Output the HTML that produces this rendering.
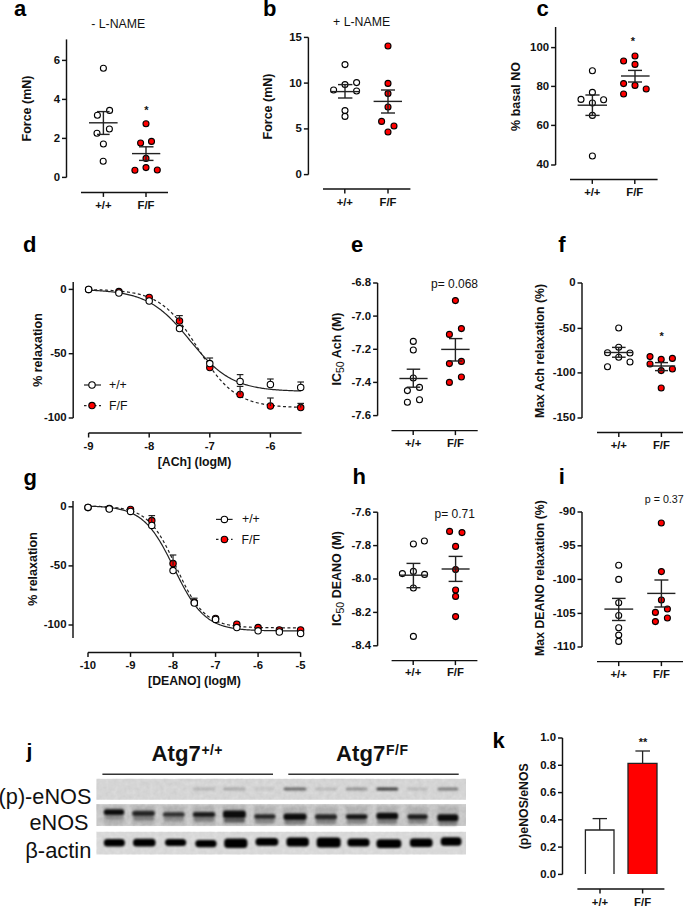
<!DOCTYPE html>
<html><head><meta charset="utf-8"><title>figure</title>
<style>html,body{margin:0;padding:0;background:#fff;}svg{display:block}text{font-family:"Liberation Sans", sans-serif;}</style>
</head><body>
<svg width="685" height="907" viewBox="0 0 685 907">
<rect width="685" height="907" fill="#fff"/>
<text x="14.00" y="16.30" font-size="22" font-weight="bold" text-anchor="start" fill="#000" >a</text>
<text x="118.20" y="28.20" font-size="12.3" font-weight="normal" text-anchor="middle" fill="#111" >- L-NAME</text>
<line x1="66.50" y1="39.40" x2="66.50" y2="177.40" stroke="#111" stroke-width="1.45" />
<line x1="62.00" y1="177.40" x2="66.50" y2="177.40" stroke="#111" stroke-width="1.45" />
<text x="60.00" y="180.82" font-size="11.4" font-weight="bold" text-anchor="end" fill="#111" >0</text>
<line x1="62.00" y1="138.40" x2="66.50" y2="138.40" stroke="#111" stroke-width="1.45" />
<text x="60.00" y="141.82" font-size="11.4" font-weight="bold" text-anchor="end" fill="#111" >2</text>
<line x1="62.00" y1="99.40" x2="66.50" y2="99.40" stroke="#111" stroke-width="1.45" />
<text x="60.00" y="102.82" font-size="11.4" font-weight="bold" text-anchor="end" fill="#111" >4</text>
<line x1="62.00" y1="60.40" x2="66.50" y2="60.40" stroke="#111" stroke-width="1.45" />
<text x="60.00" y="63.82" font-size="11.4" font-weight="bold" text-anchor="end" fill="#111" >6</text>
<text x="28.00" y="108.50" font-size="12.5" font-weight="bold" text-anchor="middle" fill="#111" transform="rotate(-90 28.00 108.50) translate(0 3.38)">Force (mN)</text>
<line x1="81.00" y1="192.40" x2="168.00" y2="192.40" stroke="#111" stroke-width="1.45" />
<line x1="103.40" y1="192.40" x2="103.40" y2="196.90" stroke="#111" stroke-width="1.45" />
<text x="103.40" y="208.70" font-size="11.3" font-weight="bold" text-anchor="middle" fill="#111" >+/+</text>
<line x1="146.00" y1="192.40" x2="146.00" y2="196.90" stroke="#111" stroke-width="1.45" />
<text x="146.00" y="208.70" font-size="11.3" font-weight="bold" text-anchor="middle" fill="#111" >F/F</text>
<circle cx="103.40" cy="68.20" r="3.0" fill="#fff" stroke="#000" stroke-width="1.1"/>
<circle cx="109.60" cy="110.40" r="3.0" fill="#fff" stroke="#000" stroke-width="1.1"/>
<circle cx="97.40" cy="115.20" r="3.0" fill="#fff" stroke="#000" stroke-width="1.1"/>
<circle cx="109.40" cy="129.00" r="3.0" fill="#fff" stroke="#000" stroke-width="1.1"/>
<circle cx="97.00" cy="133.20" r="3.0" fill="#fff" stroke="#000" stroke-width="1.1"/>
<circle cx="103.40" cy="144.00" r="3.0" fill="#fff" stroke="#000" stroke-width="1.1"/>
<circle cx="103.20" cy="161.20" r="3.0" fill="#fff" stroke="#000" stroke-width="1.1"/>
<circle cx="146.00" cy="123.80" r="3.0" fill="#ff0000" stroke="#000" stroke-width="1.1"/>
<circle cx="140.60" cy="143.00" r="3.0" fill="#ff0000" stroke="#000" stroke-width="1.1"/>
<circle cx="151.50" cy="141.40" r="3.0" fill="#ff0000" stroke="#000" stroke-width="1.1"/>
<circle cx="146.00" cy="158.40" r="3.0" fill="#ff0000" stroke="#000" stroke-width="1.1"/>
<circle cx="134.90" cy="170.30" r="3.0" fill="#ff0000" stroke="#000" stroke-width="1.1"/>
<circle cx="146.00" cy="167.60" r="3.0" fill="#ff0000" stroke="#000" stroke-width="1.1"/>
<circle cx="157.30" cy="170.00" r="3.0" fill="#ff0000" stroke="#000" stroke-width="1.1"/>
<line x1="89.00" y1="122.80" x2="117.60" y2="122.80" stroke="#222" stroke-width="1.4" />
<line x1="103.40" y1="111.60" x2="103.40" y2="134.40" stroke="#222" stroke-width="1.4" />
<line x1="97.00" y1="111.60" x2="109.60" y2="111.60" stroke="#222" stroke-width="1.4" />
<line x1="97.00" y1="134.40" x2="109.60" y2="134.40" stroke="#222" stroke-width="1.4" />
<line x1="132.00" y1="153.60" x2="160.30" y2="153.60" stroke="#222" stroke-width="1.4" />
<line x1="146.00" y1="146.80" x2="146.00" y2="160.40" stroke="#222" stroke-width="1.4" />
<line x1="139.00" y1="146.80" x2="153.50" y2="146.80" stroke="#222" stroke-width="1.4" />
<line x1="139.00" y1="160.40" x2="153.50" y2="160.40" stroke="#222" stroke-width="1.4" />
<text x="146.40" y="113.90" font-size="11" font-weight="bold" text-anchor="middle" fill="#111" >*</text>
<text x="263.00" y="16.00" font-size="22" font-weight="bold" text-anchor="start" fill="#000" >b</text>
<text x="361.60" y="26.20" font-size="12.3" font-weight="normal" text-anchor="middle" fill="#111" >+ L-NAME</text>
<line x1="308.40" y1="37.40" x2="308.40" y2="174.60" stroke="#111" stroke-width="1.45" />
<line x1="303.90" y1="174.60" x2="308.40" y2="174.60" stroke="#111" stroke-width="1.45" />
<text x="301.90" y="178.02" font-size="11.4" font-weight="bold" text-anchor="end" fill="#111" >0</text>
<line x1="303.90" y1="128.90" x2="308.40" y2="128.90" stroke="#111" stroke-width="1.45" />
<text x="301.90" y="132.32" font-size="11.4" font-weight="bold" text-anchor="end" fill="#111" >5</text>
<line x1="303.90" y1="83.10" x2="308.40" y2="83.10" stroke="#111" stroke-width="1.45" />
<text x="301.90" y="86.52" font-size="11.4" font-weight="bold" text-anchor="end" fill="#111" >10</text>
<line x1="303.90" y1="37.40" x2="308.40" y2="37.40" stroke="#111" stroke-width="1.45" />
<text x="301.90" y="40.82" font-size="11.4" font-weight="bold" text-anchor="end" fill="#111" >15</text>
<text x="269.00" y="106.50" font-size="12.5" font-weight="bold" text-anchor="middle" fill="#111" transform="rotate(-90 269.00 106.50) translate(0 3.38)">Force (mN)</text>
<line x1="323.00" y1="189.00" x2="410.40" y2="189.00" stroke="#111" stroke-width="1.45" />
<line x1="344.80" y1="189.00" x2="344.80" y2="193.50" stroke="#111" stroke-width="1.45" />
<text x="344.80" y="205.60" font-size="11.3" font-weight="bold" text-anchor="middle" fill="#111" >+/+</text>
<line x1="388.00" y1="189.00" x2="388.00" y2="193.50" stroke="#111" stroke-width="1.45" />
<text x="388.00" y="205.60" font-size="11.3" font-weight="bold" text-anchor="middle" fill="#111" >F/F</text>
<circle cx="345.00" cy="64.60" r="3.0" fill="#fff" stroke="#000" stroke-width="1.1"/>
<circle cx="345.00" cy="84.60" r="3.0" fill="#fff" stroke="#000" stroke-width="1.1"/>
<circle cx="356.60" cy="82.60" r="3.0" fill="#fff" stroke="#000" stroke-width="1.1"/>
<circle cx="333.60" cy="90.00" r="3.0" fill="#fff" stroke="#000" stroke-width="1.1"/>
<circle cx="356.60" cy="91.00" r="3.0" fill="#fff" stroke="#000" stroke-width="1.1"/>
<circle cx="345.00" cy="110.60" r="3.0" fill="#fff" stroke="#000" stroke-width="1.1"/>
<circle cx="345.00" cy="116.40" r="3.0" fill="#fff" stroke="#000" stroke-width="1.1"/>
<circle cx="388.00" cy="46.00" r="3.0" fill="#ff0000" stroke="#000" stroke-width="1.1"/>
<circle cx="388.00" cy="83.40" r="3.0" fill="#ff0000" stroke="#000" stroke-width="1.1"/>
<circle cx="388.00" cy="93.60" r="3.0" fill="#ff0000" stroke="#000" stroke-width="1.1"/>
<circle cx="388.00" cy="107.00" r="3.0" fill="#ff0000" stroke="#000" stroke-width="1.1"/>
<circle cx="381.60" cy="121.40" r="3.0" fill="#ff0000" stroke="#000" stroke-width="1.1"/>
<circle cx="394.00" cy="126.00" r="3.0" fill="#ff0000" stroke="#000" stroke-width="1.1"/>
<circle cx="388.00" cy="132.00" r="3.0" fill="#ff0000" stroke="#000" stroke-width="1.1"/>
<line x1="330.40" y1="91.60" x2="360.00" y2="91.60" stroke="#222" stroke-width="1.4" />
<line x1="345.00" y1="84.60" x2="345.00" y2="98.00" stroke="#222" stroke-width="1.4" />
<line x1="338.00" y1="84.60" x2="352.40" y2="84.60" stroke="#222" stroke-width="1.4" />
<line x1="338.00" y1="98.00" x2="352.40" y2="98.00" stroke="#222" stroke-width="1.4" />
<line x1="373.60" y1="101.40" x2="402.00" y2="101.40" stroke="#222" stroke-width="1.4" />
<line x1="388.00" y1="90.00" x2="388.00" y2="113.00" stroke="#222" stroke-width="1.4" />
<line x1="381.00" y1="90.00" x2="395.00" y2="90.00" stroke="#222" stroke-width="1.4" />
<line x1="381.00" y1="113.00" x2="395.00" y2="113.00" stroke="#222" stroke-width="1.4" />
<text x="536.60" y="16.00" font-size="22" font-weight="bold" text-anchor="start" fill="#000" >c</text>
<line x1="555.60" y1="27.00" x2="555.60" y2="165.00" stroke="#111" stroke-width="1.45" />
<line x1="551.10" y1="165.00" x2="555.60" y2="165.00" stroke="#111" stroke-width="1.45" />
<text x="549.10" y="168.42" font-size="11.4" font-weight="bold" text-anchor="end" fill="#111" >40</text>
<line x1="551.10" y1="125.40" x2="555.60" y2="125.40" stroke="#111" stroke-width="1.45" />
<text x="549.10" y="128.82" font-size="11.4" font-weight="bold" text-anchor="end" fill="#111" >60</text>
<line x1="551.10" y1="86.40" x2="555.60" y2="86.40" stroke="#111" stroke-width="1.45" />
<text x="549.10" y="89.82" font-size="11.4" font-weight="bold" text-anchor="end" fill="#111" >80</text>
<line x1="551.10" y1="47.60" x2="555.60" y2="47.60" stroke="#111" stroke-width="1.45" />
<text x="549.10" y="51.02" font-size="11.4" font-weight="bold" text-anchor="end" fill="#111" >100</text>
<text x="517.00" y="96.50" font-size="12.5" font-weight="bold" text-anchor="middle" fill="#111" transform="rotate(-90 517.00 96.50) translate(0 3.38)">% basal NO</text>
<line x1="570.00" y1="179.40" x2="657.60" y2="179.40" stroke="#111" stroke-width="1.45" />
<line x1="592.30" y1="179.40" x2="592.30" y2="183.90" stroke="#111" stroke-width="1.45" />
<text x="592.30" y="196.00" font-size="11.3" font-weight="bold" text-anchor="middle" fill="#111" >+/+</text>
<line x1="634.80" y1="179.40" x2="634.80" y2="183.90" stroke="#111" stroke-width="1.45" />
<text x="634.80" y="196.00" font-size="11.3" font-weight="bold" text-anchor="middle" fill="#111" >F/F</text>
<circle cx="592.40" cy="70.80" r="3.0" fill="#fff" stroke="#000" stroke-width="1.1"/>
<circle cx="592.40" cy="92.40" r="3.0" fill="#fff" stroke="#000" stroke-width="1.1"/>
<circle cx="581.00" cy="99.40" r="3.0" fill="#fff" stroke="#000" stroke-width="1.1"/>
<circle cx="603.60" cy="99.80" r="3.0" fill="#fff" stroke="#000" stroke-width="1.1"/>
<circle cx="592.40" cy="103.00" r="3.0" fill="#fff" stroke="#000" stroke-width="1.1"/>
<circle cx="592.40" cy="115.40" r="3.0" fill="#fff" stroke="#000" stroke-width="1.1"/>
<circle cx="592.40" cy="156.00" r="3.0" fill="#fff" stroke="#000" stroke-width="1.1"/>
<circle cx="635.00" cy="56.00" r="3.0" fill="#ff0000" stroke="#000" stroke-width="1.1"/>
<circle cx="623.60" cy="61.00" r="3.0" fill="#ff0000" stroke="#000" stroke-width="1.1"/>
<circle cx="635.00" cy="64.40" r="3.0" fill="#ff0000" stroke="#000" stroke-width="1.1"/>
<circle cx="623.60" cy="83.60" r="3.0" fill="#ff0000" stroke="#000" stroke-width="1.1"/>
<circle cx="635.00" cy="85.40" r="3.0" fill="#ff0000" stroke="#000" stroke-width="1.1"/>
<circle cx="646.20" cy="89.00" r="3.0" fill="#ff0000" stroke="#000" stroke-width="1.1"/>
<circle cx="623.60" cy="94.00" r="3.0" fill="#ff0000" stroke="#000" stroke-width="1.1"/>
<line x1="577.60" y1="105.20" x2="607.00" y2="105.20" stroke="#222" stroke-width="1.4" />
<line x1="592.40" y1="95.00" x2="592.40" y2="115.40" stroke="#222" stroke-width="1.4" />
<line x1="585.40" y1="95.00" x2="599.60" y2="95.00" stroke="#222" stroke-width="1.4" />
<line x1="585.40" y1="115.40" x2="599.60" y2="115.40" stroke="#222" stroke-width="1.4" />
<line x1="621.00" y1="76.00" x2="649.60" y2="76.00" stroke="#222" stroke-width="1.4" />
<line x1="635.00" y1="70.40" x2="635.00" y2="82.00" stroke="#222" stroke-width="1.4" />
<line x1="628.00" y1="70.40" x2="642.00" y2="70.40" stroke="#222" stroke-width="1.4" />
<line x1="628.00" y1="82.00" x2="642.00" y2="82.00" stroke="#222" stroke-width="1.4" />
<text x="632.80" y="45.30" font-size="11" font-weight="bold" text-anchor="middle" fill="#111" >*</text>
<text x="23.00" y="251.60" font-size="22" font-weight="bold" text-anchor="start" fill="#000" >d</text>
<line x1="73.20" y1="282.00" x2="73.20" y2="418.00" stroke="#111" stroke-width="1.45" />
<line x1="68.70" y1="289.40" x2="73.20" y2="289.40" stroke="#111" stroke-width="1.45" />
<text x="66.70" y="292.82" font-size="11.4" font-weight="bold" text-anchor="end" fill="#111" >0</text>
<line x1="68.70" y1="353.70" x2="73.20" y2="353.70" stroke="#111" stroke-width="1.45" />
<text x="66.70" y="357.12" font-size="11.4" font-weight="bold" text-anchor="end" fill="#111" >-50</text>
<line x1="68.70" y1="418.00" x2="73.20" y2="418.00" stroke="#111" stroke-width="1.45" />
<text x="66.70" y="421.42" font-size="11.4" font-weight="bold" text-anchor="end" fill="#111" >-100</text>
<text x="38.60" y="350.00" font-size="12.5" font-weight="bold" text-anchor="middle" fill="#111" transform="rotate(-90 38.60 350.00) translate(0 3.38)">% relaxation</text>
<line x1="88.60" y1="433.00" x2="301.60" y2="433.00" stroke="#111" stroke-width="1.45" />
<line x1="88.60" y1="433.00" x2="88.60" y2="437.50" stroke="#111" stroke-width="1.45" />
<text x="88.60" y="450.00" font-size="11.3" font-weight="bold" text-anchor="middle" fill="#111" >-9</text>
<line x1="149.20" y1="433.00" x2="149.20" y2="437.50" stroke="#111" stroke-width="1.45" />
<text x="149.20" y="450.00" font-size="11.3" font-weight="bold" text-anchor="middle" fill="#111" >-8</text>
<line x1="209.80" y1="433.00" x2="209.80" y2="437.50" stroke="#111" stroke-width="1.45" />
<text x="209.80" y="450.00" font-size="11.3" font-weight="bold" text-anchor="middle" fill="#111" >-7</text>
<line x1="270.40" y1="433.00" x2="270.40" y2="437.50" stroke="#111" stroke-width="1.45" />
<text x="270.40" y="450.00" font-size="11.3" font-weight="bold" text-anchor="middle" fill="#111" >-6</text>
<text x="194.60" y="466.30" font-size="12.3" font-weight="bold" text-anchor="middle" fill="#111" >[ACh] (logM)</text>
<polyline points="88.60,290.23 89.67,290.27 90.73,290.32 91.80,290.36 92.86,290.41 93.93,290.47 94.99,290.52 96.06,290.58 97.13,290.64 98.19,290.70 99.26,290.77 100.32,290.84 101.39,290.91 102.46,290.99 103.52,291.07 104.59,291.15 105.65,291.24 106.72,291.34 107.78,291.44 108.85,291.54 109.92,291.65 110.98,291.76 112.05,291.88 113.11,292.01 114.18,292.14 115.25,292.28 116.31,292.42 117.38,292.57 118.44,292.73 119.51,292.90 120.57,293.07 121.64,293.25 122.71,293.45 123.77,293.65 124.84,293.86 125.90,294.08 126.97,294.31 128.04,294.55 129.10,294.80 130.17,295.07 131.23,295.34 132.30,295.63 133.36,295.93 134.43,296.25 135.50,296.58 136.56,296.92 137.63,297.28 138.69,297.66 139.76,298.05 140.83,298.46 141.89,298.89 142.96,299.33 144.02,299.79 145.09,300.27 146.15,300.77 147.22,301.29 148.29,301.83 149.35,302.40 150.42,302.98 151.48,303.59 152.55,304.21 153.62,304.86 154.68,305.54 155.75,306.24 156.81,306.96 157.88,307.71 158.94,308.48 160.01,309.27 161.08,310.09 162.14,310.94 163.21,311.81 164.27,312.71 165.34,313.63 166.41,314.57 167.47,315.54 168.54,316.54 169.60,317.55 170.67,318.59 171.73,319.66 172.80,320.74 173.87,321.85 174.93,322.98 176.00,324.13 177.06,325.29 178.13,326.48 179.20,327.68 180.26,328.90 181.33,330.12 182.39,331.37 183.46,332.62 184.52,333.88 185.59,335.16 186.66,336.43 187.72,337.72 188.79,339.00 189.85,340.29 190.92,341.58 191.99,342.87 193.05,344.15 194.12,345.43 195.18,346.71 196.25,347.97 197.31,349.23 198.38,350.47 199.45,351.71 200.51,352.93 201.58,354.13 202.64,355.32 203.71,356.49 204.78,357.64 205.84,358.77 206.91,359.89 207.97,360.98 209.04,362.05 210.10,363.09 211.17,364.12 212.24,365.12 213.30,366.09 214.37,367.05 215.43,367.97 216.50,368.87 217.57,369.75 218.63,370.60 219.70,371.43 220.76,372.23 221.83,373.01 222.89,373.76 223.96,374.49 225.03,375.19 226.09,375.87 227.16,376.53 228.22,377.16 229.29,377.77 230.36,378.36 231.42,378.93 232.49,379.48 233.55,380.00 234.62,380.51 235.68,380.99 236.75,381.46 237.82,381.91 238.88,382.34 239.95,382.75 241.01,383.15 242.08,383.53 243.15,383.89 244.21,384.24 245.28,384.57 246.34,384.89 247.41,385.20 248.47,385.49 249.54,385.77 250.61,386.03 251.67,386.29 252.74,386.53 253.80,386.77 254.87,386.99 255.94,387.20 257.00,387.41 258.07,387.60 259.13,387.78 260.20,387.96 261.26,388.13 262.33,388.29 263.40,388.44 264.46,388.59 265.53,388.73 266.59,388.86 267.66,388.99 268.73,389.11 269.79,389.22 270.86,389.33 271.92,389.44 272.99,389.54 274.05,389.63 275.12,389.72 276.19,389.81 277.25,389.89 278.32,389.97 279.38,390.04 280.45,390.11 281.52,390.18 282.58,390.25 283.65,390.31 284.71,390.37 285.78,390.42 286.84,390.47 287.91,390.52 288.98,390.57 290.04,390.62 291.11,390.66 292.17,390.70 293.24,390.74 294.31,390.78 295.37,390.81 296.44,390.85 297.50,390.88 298.57,390.91 299.63,390.94 300.70,390.96" fill="none" stroke="#222" stroke-width="1.2"/>
<polyline points="88.60,289.60 89.67,289.62 90.73,289.65 91.80,289.67 92.86,289.69 93.93,289.72 94.99,289.75 96.06,289.78 97.13,289.81 98.19,289.84 99.26,289.88 100.32,289.91 101.39,289.95 102.46,289.99 103.52,290.04 104.59,290.08 105.65,290.13 106.72,290.18 107.78,290.24 108.85,290.29 109.92,290.35 110.98,290.42 112.05,290.49 113.11,290.56 114.18,290.63 115.25,290.71 116.31,290.80 117.38,290.89 118.44,290.98 119.51,291.08 120.57,291.18 121.64,291.29 122.71,291.41 123.77,291.53 124.84,291.66 125.90,291.80 126.97,291.95 128.04,292.10 129.10,292.26 130.17,292.43 131.23,292.61 132.30,292.80 133.36,293.00 134.43,293.21 135.50,293.43 136.56,293.67 137.63,293.91 138.69,294.17 139.76,294.45 140.83,294.73 141.89,295.04 142.96,295.36 144.02,295.69 145.09,296.04 146.15,296.41 147.22,296.80 148.29,297.21 149.35,297.64 150.42,298.09 151.48,298.56 152.55,299.06 153.62,299.58 154.68,300.12 155.75,300.69 156.81,301.29 157.88,301.91 158.94,302.57 160.01,303.25 161.08,303.96 162.14,304.70 163.21,305.47 164.27,306.28 165.34,307.12 166.41,307.99 167.47,308.89 168.54,309.84 169.60,310.81 170.67,311.82 171.73,312.87 172.80,313.96 173.87,315.08 174.93,316.23 176.00,317.42 177.06,318.65 178.13,319.92 179.20,321.21 180.26,322.55 181.33,323.91 182.39,325.31 183.46,326.74 184.52,328.20 185.59,329.69 186.66,331.20 187.72,332.74 188.79,334.30 189.85,335.89 190.92,337.49 191.99,339.11 193.05,340.74 194.12,342.39 195.18,344.05 196.25,345.71 197.31,347.38 198.38,349.05 199.45,350.72 200.51,352.38 201.58,354.04 202.64,355.69 203.71,357.33 204.78,358.96 205.84,360.57 206.91,362.16 207.97,363.73 209.04,365.28 210.10,366.80 211.17,368.30 212.24,369.77 213.30,371.21 214.37,372.62 215.43,373.99 216.50,375.34 217.57,376.65 218.63,377.93 219.70,379.17 220.76,380.37 221.83,381.54 222.89,382.68 223.96,383.77 225.03,384.83 226.09,385.86 227.16,386.85 228.22,387.80 229.29,388.72 230.36,389.61 231.42,390.46 232.49,391.27 233.55,392.06 234.62,392.81 235.68,393.54 236.75,394.23 237.82,394.89 238.88,395.52 239.95,396.13 241.01,396.71 242.08,397.26 243.15,397.79 244.21,398.30 245.28,398.78 246.34,399.24 247.41,399.67 248.47,400.09 249.54,400.48 250.61,400.86 251.67,401.22 252.74,401.56 253.80,401.89 254.87,402.20 255.94,402.49 257.00,402.77 258.07,403.03 259.13,403.28 260.20,403.52 261.26,403.75 262.33,403.96 263.40,404.17 264.46,404.36 265.53,404.54 266.59,404.72 267.66,404.88 268.73,405.04 269.79,405.19 270.86,405.33 271.92,405.46 272.99,405.58 274.05,405.70 275.12,405.82 276.19,405.92 277.25,406.02 278.32,406.12 279.38,406.21 280.45,406.30 281.52,406.38 282.58,406.46 283.65,406.53 284.71,406.60 285.78,406.66 286.84,406.72 287.91,406.78 288.98,406.84 290.04,406.89 291.11,406.94 292.17,406.99 293.24,407.03 294.31,407.07 295.37,407.11 296.44,407.15 297.50,407.19 298.57,407.22 299.63,407.25 300.70,407.28" fill="none" stroke="#222" stroke-width="1.2" stroke-dasharray="3,2.5"/>
<circle cx="88.60" cy="289.40" r="3.2" fill="#ff0000" stroke="#000" stroke-width="1.1"/>
<circle cx="118.90" cy="291.60" r="3.2" fill="#ff0000" stroke="#000" stroke-width="1.1"/>
<circle cx="149.20" cy="297.40" r="3.2" fill="#ff0000" stroke="#000" stroke-width="1.1"/>
<circle cx="179.50" cy="321.00" r="3.2" fill="#ff0000" stroke="#000" stroke-width="1.1"/>
<line x1="179.50" y1="321.00" x2="179.50" y2="315.60" stroke="#222" stroke-width="1.2" />
<line x1="176.20" y1="315.60" x2="182.80" y2="315.60" stroke="#222" stroke-width="1.2" />
<circle cx="209.80" cy="367.60" r="3.2" fill="#ff0000" stroke="#000" stroke-width="1.1"/>
<circle cx="240.10" cy="394.40" r="3.2" fill="#ff0000" stroke="#000" stroke-width="1.1"/>
<line x1="240.10" y1="394.40" x2="240.10" y2="386.40" stroke="#222" stroke-width="1.2" />
<line x1="236.80" y1="386.40" x2="243.40" y2="386.40" stroke="#222" stroke-width="1.2" />
<circle cx="270.40" cy="406.00" r="3.2" fill="#ff0000" stroke="#000" stroke-width="1.1"/>
<line x1="270.40" y1="406.00" x2="270.40" y2="398.00" stroke="#222" stroke-width="1.2" />
<line x1="267.10" y1="398.00" x2="273.70" y2="398.00" stroke="#222" stroke-width="1.2" />
<circle cx="300.70" cy="407.60" r="3.2" fill="#ff0000" stroke="#000" stroke-width="1.1"/>
<line x1="300.70" y1="407.60" x2="300.70" y2="403.40" stroke="#222" stroke-width="1.2" />
<line x1="297.40" y1="403.40" x2="304.00" y2="403.40" stroke="#222" stroke-width="1.2" />
<circle cx="88.60" cy="289.40" r="3.2" fill="#fff" stroke="#000" stroke-width="1.1"/>
<circle cx="118.90" cy="293.00" r="3.2" fill="#fff" stroke="#000" stroke-width="1.1"/>
<circle cx="149.20" cy="301.00" r="3.2" fill="#fff" stroke="#000" stroke-width="1.1"/>
<circle cx="179.50" cy="328.60" r="3.2" fill="#fff" stroke="#000" stroke-width="1.1"/>
<line x1="209.80" y1="363.60" x2="209.80" y2="358.00" stroke="#222" stroke-width="1.2" />
<line x1="206.50" y1="358.00" x2="213.10" y2="358.00" stroke="#222" stroke-width="1.2" />
<circle cx="209.80" cy="363.60" r="3.2" fill="#fff" stroke="#000" stroke-width="1.1"/>
<line x1="240.10" y1="381.40" x2="240.10" y2="374.60" stroke="#222" stroke-width="1.2" />
<line x1="236.80" y1="374.60" x2="243.40" y2="374.60" stroke="#222" stroke-width="1.2" />
<circle cx="240.10" cy="381.40" r="3.2" fill="#fff" stroke="#000" stroke-width="1.1"/>
<line x1="270.40" y1="384.50" x2="270.40" y2="379.00" stroke="#222" stroke-width="1.2" />
<line x1="267.10" y1="379.00" x2="273.70" y2="379.00" stroke="#222" stroke-width="1.2" />
<circle cx="270.40" cy="384.50" r="3.2" fill="#fff" stroke="#000" stroke-width="1.1"/>
<line x1="300.70" y1="387.40" x2="300.70" y2="382.00" stroke="#222" stroke-width="1.2" />
<line x1="297.40" y1="382.00" x2="304.00" y2="382.00" stroke="#222" stroke-width="1.2" />
<circle cx="300.70" cy="387.40" r="3.2" fill="#fff" stroke="#000" stroke-width="1.1"/>
<line x1="84.00" y1="385.00" x2="101.00" y2="385.00" stroke="#222" stroke-width="1.2" />
<circle cx="92.00" cy="385.00" r="3.2" fill="#fff" stroke="#000" stroke-width="1.1"/>
<text x="109.00" y="388.60" font-size="12.3" font-weight="normal" text-anchor="start" fill="#111" >+/+</text>
<line x1="84.00" y1="405.60" x2="101.00" y2="405.60" stroke="#222" stroke-width="1.2" stroke-dasharray="2.5,2.5"/>
<circle cx="92.00" cy="405.60" r="3.2" fill="#ff0000" stroke="#000" stroke-width="1.1"/>
<text x="109.00" y="409.60" font-size="12.3" font-weight="normal" text-anchor="start" fill="#111" >F/F</text>
<text x="351.00" y="252.00" font-size="22" font-weight="bold" text-anchor="start" fill="#000" >e</text>
<line x1="377.60" y1="283.00" x2="377.60" y2="415.60" stroke="#111" stroke-width="1.45" />
<line x1="373.10" y1="283.00" x2="377.60" y2="283.00" stroke="#111" stroke-width="1.45" />
<text x="371.10" y="286.42" font-size="11.4" font-weight="bold" text-anchor="end" fill="#111" >-6.8</text>
<line x1="373.10" y1="316.10" x2="377.60" y2="316.10" stroke="#111" stroke-width="1.45" />
<text x="371.10" y="319.52" font-size="11.4" font-weight="bold" text-anchor="end" fill="#111" >-7.0</text>
<line x1="373.10" y1="349.30" x2="377.60" y2="349.30" stroke="#111" stroke-width="1.45" />
<text x="371.10" y="352.72" font-size="11.4" font-weight="bold" text-anchor="end" fill="#111" >-7.2</text>
<line x1="373.10" y1="382.40" x2="377.60" y2="382.40" stroke="#111" stroke-width="1.45" />
<text x="371.10" y="385.82" font-size="11.4" font-weight="bold" text-anchor="end" fill="#111" >-7.4</text>
<line x1="373.10" y1="415.60" x2="377.60" y2="415.60" stroke="#111" stroke-width="1.45" />
<text x="371.10" y="419.02" font-size="11.4" font-weight="bold" text-anchor="end" fill="#111" >-7.6</text>
<text x="338" y="349" font-size="12.5" font-weight="bold" text-anchor="middle" fill="#111" transform="rotate(-90 338 349) translate(0 3.0)">IC<tspan font-size="10.5" font-weight="normal" dy="3">50</tspan><tspan dy="-3"> Ach (M)</tspan></text>
<line x1="391.50" y1="430.60" x2="477.70" y2="430.60" stroke="#111" stroke-width="1.45" />
<line x1="413.20" y1="430.60" x2="413.20" y2="435.10" stroke="#111" stroke-width="1.45" />
<text x="413.20" y="446.60" font-size="11.3" font-weight="bold" text-anchor="middle" fill="#111" >+/+</text>
<line x1="455.40" y1="430.60" x2="455.40" y2="435.10" stroke="#111" stroke-width="1.45" />
<text x="455.40" y="446.60" font-size="11.3" font-weight="bold" text-anchor="middle" fill="#111" >F/F</text>
<text x="431.00" y="288.20" font-size="12" font-weight="normal" text-anchor="start" fill="#111" >p= 0.068</text>
<circle cx="413.30" cy="341.40" r="3.0" fill="#fff" stroke="#000" stroke-width="1.1"/>
<circle cx="413.30" cy="350.00" r="3.0" fill="#fff" stroke="#000" stroke-width="1.1"/>
<circle cx="413.30" cy="378.00" r="3.0" fill="#fff" stroke="#000" stroke-width="1.1"/>
<circle cx="419.50" cy="387.40" r="3.0" fill="#fff" stroke="#000" stroke-width="1.1"/>
<circle cx="407.40" cy="390.60" r="3.0" fill="#fff" stroke="#000" stroke-width="1.1"/>
<circle cx="419.50" cy="399.80" r="3.0" fill="#fff" stroke="#000" stroke-width="1.1"/>
<circle cx="407.40" cy="402.20" r="3.0" fill="#fff" stroke="#000" stroke-width="1.1"/>
<circle cx="455.40" cy="300.60" r="3.0" fill="#ff0000" stroke="#000" stroke-width="1.1"/>
<circle cx="461.40" cy="328.60" r="3.0" fill="#ff0000" stroke="#000" stroke-width="1.1"/>
<circle cx="449.40" cy="334.40" r="3.0" fill="#ff0000" stroke="#000" stroke-width="1.1"/>
<circle cx="461.40" cy="361.40" r="3.0" fill="#ff0000" stroke="#000" stroke-width="1.1"/>
<circle cx="449.40" cy="363.60" r="3.0" fill="#ff0000" stroke="#000" stroke-width="1.1"/>
<circle cx="461.40" cy="377.00" r="3.0" fill="#ff0000" stroke="#000" stroke-width="1.1"/>
<circle cx="449.40" cy="382.40" r="3.0" fill="#ff0000" stroke="#000" stroke-width="1.1"/>
<line x1="399.40" y1="378.50" x2="427.60" y2="378.50" stroke="#222" stroke-width="1.4" />
<line x1="413.30" y1="369.20" x2="413.30" y2="387.20" stroke="#222" stroke-width="1.4" />
<line x1="406.70" y1="369.20" x2="420.20" y2="369.20" stroke="#222" stroke-width="1.4" />
<line x1="406.70" y1="387.20" x2="420.20" y2="387.20" stroke="#222" stroke-width="1.4" />
<line x1="441.20" y1="349.40" x2="469.60" y2="349.40" stroke="#222" stroke-width="1.4" />
<line x1="455.40" y1="338.60" x2="455.40" y2="361.00" stroke="#222" stroke-width="1.4" />
<line x1="449.00" y1="338.60" x2="462.40" y2="338.60" stroke="#222" stroke-width="1.4" />
<line x1="449.00" y1="361.00" x2="462.40" y2="361.00" stroke="#222" stroke-width="1.4" />
<text x="558.20" y="252.40" font-size="22" font-weight="bold" text-anchor="start" fill="#000" >f</text>
<line x1="582.00" y1="283.00" x2="582.00" y2="418.00" stroke="#111" stroke-width="1.45" />
<line x1="577.50" y1="283.00" x2="582.00" y2="283.00" stroke="#111" stroke-width="1.45" />
<text x="575.50" y="286.42" font-size="11.4" font-weight="bold" text-anchor="end" fill="#111" >0</text>
<line x1="577.50" y1="328.40" x2="582.00" y2="328.40" stroke="#111" stroke-width="1.45" />
<text x="575.50" y="331.82" font-size="11.4" font-weight="bold" text-anchor="end" fill="#111" >-50</text>
<line x1="577.50" y1="372.90" x2="582.00" y2="372.90" stroke="#111" stroke-width="1.45" />
<text x="575.50" y="376.32" font-size="11.4" font-weight="bold" text-anchor="end" fill="#111" >-100</text>
<line x1="577.50" y1="418.00" x2="582.00" y2="418.00" stroke="#111" stroke-width="1.45" />
<text x="575.50" y="421.42" font-size="11.4" font-weight="bold" text-anchor="end" fill="#111" >-150</text>
<text x="541.00" y="351.00" font-size="12.3" font-weight="bold" text-anchor="middle" fill="#111" transform="rotate(-90 541.00 351.00) translate(0 3.32)">Max Ach relaxation (%)</text>
<line x1="597.00" y1="432.50" x2="683.00" y2="432.50" stroke="#111" stroke-width="1.45" />
<line x1="618.80" y1="432.50" x2="618.80" y2="437.00" stroke="#111" stroke-width="1.45" />
<text x="618.80" y="448.80" font-size="11.3" font-weight="bold" text-anchor="middle" fill="#111" >+/+</text>
<line x1="661.40" y1="432.50" x2="661.40" y2="437.00" stroke="#111" stroke-width="1.45" />
<text x="661.40" y="448.80" font-size="11.3" font-weight="bold" text-anchor="middle" fill="#111" >F/F</text>
<circle cx="618.70" cy="328.00" r="3.0" fill="#fff" stroke="#000" stroke-width="1.1"/>
<circle cx="618.70" cy="347.20" r="3.0" fill="#fff" stroke="#000" stroke-width="1.1"/>
<circle cx="607.50" cy="352.80" r="3.0" fill="#fff" stroke="#000" stroke-width="1.1"/>
<circle cx="630.00" cy="353.00" r="3.0" fill="#fff" stroke="#000" stroke-width="1.1"/>
<circle cx="618.70" cy="357.20" r="3.0" fill="#fff" stroke="#000" stroke-width="1.1"/>
<circle cx="630.00" cy="362.00" r="3.0" fill="#fff" stroke="#000" stroke-width="1.1"/>
<circle cx="607.50" cy="366.80" r="3.0" fill="#fff" stroke="#000" stroke-width="1.1"/>
<circle cx="650.00" cy="356.60" r="3.0" fill="#ff0000" stroke="#000" stroke-width="1.1"/>
<circle cx="661.20" cy="359.40" r="3.0" fill="#ff0000" stroke="#000" stroke-width="1.1"/>
<circle cx="672.40" cy="358.40" r="3.0" fill="#ff0000" stroke="#000" stroke-width="1.1"/>
<circle cx="650.00" cy="364.00" r="3.0" fill="#ff0000" stroke="#000" stroke-width="1.1"/>
<circle cx="672.40" cy="369.00" r="3.0" fill="#ff0000" stroke="#000" stroke-width="1.1"/>
<circle cx="661.20" cy="370.60" r="3.0" fill="#ff0000" stroke="#000" stroke-width="1.1"/>
<circle cx="661.20" cy="388.00" r="3.0" fill="#ff0000" stroke="#000" stroke-width="1.1"/>
<line x1="604.50" y1="352.50" x2="633.00" y2="352.50" stroke="#222" stroke-width="1.4" />
<line x1="618.70" y1="347.40" x2="618.70" y2="357.20" stroke="#222" stroke-width="1.4" />
<line x1="612.00" y1="347.40" x2="625.60" y2="347.40" stroke="#222" stroke-width="1.4" />
<line x1="612.00" y1="357.20" x2="625.60" y2="357.20" stroke="#222" stroke-width="1.4" />
<line x1="647.40" y1="366.00" x2="675.20" y2="366.00" stroke="#222" stroke-width="1.4" />
<line x1="661.20" y1="362.60" x2="661.20" y2="370.60" stroke="#222" stroke-width="1.4" />
<line x1="655.00" y1="362.60" x2="668.00" y2="362.60" stroke="#222" stroke-width="1.4" />
<line x1="655.00" y1="370.60" x2="668.00" y2="370.60" stroke="#222" stroke-width="1.4" />
<text x="661.60" y="339.70" font-size="11" font-weight="bold" text-anchor="middle" fill="#111" >*</text>
<text x="23.60" y="484.70" font-size="22" font-weight="bold" text-anchor="start" fill="#000" >g</text>
<line x1="73.00" y1="501.00" x2="73.00" y2="638.00" stroke="#111" stroke-width="1.45" />
<line x1="68.50" y1="506.80" x2="73.00" y2="506.80" stroke="#111" stroke-width="1.45" />
<text x="66.50" y="510.22" font-size="11.4" font-weight="bold" text-anchor="end" fill="#111" >0</text>
<line x1="68.50" y1="565.90" x2="73.00" y2="565.90" stroke="#111" stroke-width="1.45" />
<text x="66.50" y="569.32" font-size="11.4" font-weight="bold" text-anchor="end" fill="#111" >-50</text>
<line x1="68.50" y1="625.00" x2="73.00" y2="625.00" stroke="#111" stroke-width="1.45" />
<text x="66.50" y="628.42" font-size="11.4" font-weight="bold" text-anchor="end" fill="#111" >-100</text>
<text x="34.00" y="569.00" font-size="12.5" font-weight="bold" text-anchor="middle" fill="#111" transform="rotate(-90 34.00 569.00) translate(0 3.38)">% relaxation</text>
<line x1="88.00" y1="652.40" x2="300.60" y2="652.40" stroke="#111" stroke-width="1.45" />
<line x1="88.00" y1="652.40" x2="88.00" y2="656.90" stroke="#111" stroke-width="1.45" />
<text x="88.00" y="669.40" font-size="11.3" font-weight="bold" text-anchor="middle" fill="#111" >-10</text>
<line x1="130.52" y1="652.40" x2="130.52" y2="656.90" stroke="#111" stroke-width="1.45" />
<text x="130.52" y="669.40" font-size="11.3" font-weight="bold" text-anchor="middle" fill="#111" >-9</text>
<line x1="173.04" y1="652.40" x2="173.04" y2="656.90" stroke="#111" stroke-width="1.45" />
<text x="173.04" y="669.40" font-size="11.3" font-weight="bold" text-anchor="middle" fill="#111" >-8</text>
<line x1="215.56" y1="652.40" x2="215.56" y2="656.90" stroke="#111" stroke-width="1.45" />
<text x="215.56" y="669.40" font-size="11.3" font-weight="bold" text-anchor="middle" fill="#111" >-7</text>
<line x1="258.08" y1="652.40" x2="258.08" y2="656.90" stroke="#111" stroke-width="1.45" />
<text x="258.08" y="669.40" font-size="11.3" font-weight="bold" text-anchor="middle" fill="#111" >-6</text>
<line x1="300.60" y1="652.40" x2="300.60" y2="656.90" stroke="#111" stroke-width="1.45" />
<text x="300.60" y="669.40" font-size="11.3" font-weight="bold" text-anchor="middle" fill="#111" >-5</text>
<text x="194.50" y="684.80" font-size="12.3" font-weight="bold" text-anchor="middle" fill="#111" >[DEANO] (logM)</text>
<polyline points="88.00,506.15 89.07,506.18 90.14,506.22 91.21,506.26 92.27,506.30 93.34,506.34 94.41,506.39 95.48,506.44 96.55,506.49 97.62,506.55 98.68,506.61 99.75,506.68 100.82,506.75 101.89,506.83 102.96,506.91 104.03,506.99 105.09,507.09 106.16,507.19 107.23,507.29 108.30,507.41 109.37,507.53 110.44,507.66 111.50,507.80 112.57,507.95 113.64,508.11 114.71,508.28 115.78,508.46 116.85,508.66 117.91,508.87 118.98,509.09 120.05,509.33 121.12,509.58 122.19,509.85 123.26,510.14 124.32,510.45 125.39,510.78 126.46,511.13 127.53,511.50 128.60,511.89 129.67,512.32 130.73,512.77 131.80,513.24 132.87,513.75 133.94,514.29 135.01,514.86 136.08,515.47 137.14,516.12 138.21,516.80 139.28,517.52 140.35,518.29 141.42,519.09 142.49,519.95 143.55,520.85 144.62,521.79 145.69,522.79 146.76,523.84 147.83,524.95 148.90,526.10 149.96,527.32 151.03,528.58 152.10,529.91 153.17,531.29 154.24,532.73 155.31,534.23 156.37,535.79 157.44,537.40 158.51,539.07 159.58,540.80 160.65,542.58 161.72,544.40 162.78,546.28 163.85,548.21 164.92,550.17 165.99,552.18 167.06,554.22 168.13,556.30 169.19,558.40 170.26,560.53 171.33,562.67 172.40,564.83 173.47,567.00 174.54,569.17 175.60,571.34 176.67,573.50 177.74,575.64 178.81,577.77 179.88,579.88 180.95,581.96 182.01,584.01 183.08,586.03 184.15,588.00 185.22,589.94 186.29,591.82 187.36,593.66 188.42,595.45 189.49,597.18 190.56,598.86 191.63,600.49 192.70,602.06 193.77,603.57 194.83,605.02 195.90,606.41 196.97,607.75 198.04,609.03 199.11,610.25 200.18,611.42 201.24,612.53 202.31,613.59 203.38,614.60 204.45,615.56 205.52,616.47 206.59,617.33 207.65,618.14 208.72,618.92 209.79,619.65 210.86,620.34 211.93,620.99 213.00,621.60 214.06,622.18 215.13,622.73 216.20,623.24 217.27,623.72 218.34,624.18 219.41,624.61 220.47,625.01 221.54,625.39 222.61,625.74 223.68,626.07 224.75,626.38 225.82,626.68 226.88,626.95 227.95,627.21 229.02,627.45 230.09,627.67 231.16,627.88 232.23,628.08 233.29,628.27 234.36,628.44 235.43,628.60 236.50,628.75 237.57,628.89 238.64,629.03 239.70,629.15 240.77,629.26 241.84,629.37 242.91,629.47 243.98,629.57 245.05,629.66 246.11,629.74 247.18,629.82 248.25,629.89 249.32,629.96 250.39,630.02 251.46,630.08 252.52,630.13 253.59,630.18 254.66,630.23 255.73,630.28 256.80,630.32 257.87,630.36 258.93,630.39 260.00,630.43 261.07,630.46 262.14,630.49 263.21,630.51 264.28,630.54 265.34,630.56 266.41,630.59 267.48,630.61 268.55,630.63 269.62,630.65 270.69,630.66 271.75,630.68 272.82,630.69 273.89,630.71 274.96,630.72 276.03,630.73 277.10,630.74 278.16,630.75 279.23,630.76 280.30,630.77 281.37,630.78 282.44,630.79 283.51,630.80 284.57,630.80 285.64,630.81 286.71,630.82 287.78,630.82 288.85,630.83 289.92,630.83 290.98,630.84 292.05,630.84 293.12,630.84 294.19,630.85 295.26,630.85 296.33,630.85 297.39,630.86 298.46,630.86 299.53,630.86 300.60,630.87" fill="none" stroke="#222" stroke-width="1.2"/>
<polyline points="88.00,506.13 89.07,506.15 90.14,506.17 91.21,506.19 92.27,506.22 93.34,506.24 94.41,506.27 95.48,506.30 96.55,506.33 97.62,506.37 98.68,506.41 99.75,506.45 100.82,506.49 101.89,506.54 102.96,506.59 104.03,506.64 105.09,506.70 106.16,506.76 107.23,506.83 108.30,506.90 109.37,506.98 110.44,507.06 111.50,507.16 112.57,507.25 113.64,507.36 114.71,507.47 115.78,507.59 116.85,507.73 117.91,507.87 118.98,508.02 120.05,508.18 121.12,508.36 122.19,508.55 123.26,508.75 124.32,508.97 125.39,509.20 126.46,509.45 127.53,509.72 128.60,510.01 129.67,510.33 130.73,510.66 131.80,511.02 132.87,511.40 133.94,511.81 135.01,512.25 136.08,512.72 137.14,513.22 138.21,513.76 139.28,514.33 140.35,514.94 141.42,515.59 142.49,516.29 143.55,517.03 144.62,517.81 145.69,518.65 146.76,519.53 147.83,520.47 148.90,521.47 149.96,522.52 151.03,523.63 152.10,524.80 153.17,526.04 154.24,527.34 155.31,528.70 156.37,530.13 157.44,531.63 158.51,533.19 159.58,534.82 160.65,536.52 161.72,538.28 162.78,540.10 163.85,541.98 164.92,543.93 165.99,545.93 167.06,547.98 168.13,550.08 169.19,552.22 170.26,554.40 171.33,556.62 172.40,558.87 173.47,561.13 174.54,563.42 175.60,565.71 176.67,568.01 177.74,570.30 178.81,572.58 179.88,574.85 180.95,577.10 182.01,579.31 183.08,581.50 184.15,583.64 185.22,585.74 186.29,587.79 187.36,589.79 188.42,591.74 189.49,593.62 190.56,595.44 191.63,597.20 192.70,598.90 193.77,600.53 194.83,602.09 195.90,603.59 196.97,605.02 198.04,606.39 199.11,607.69 200.18,608.92 201.24,610.10 202.31,611.21 203.38,612.26 204.45,613.26 205.52,614.20 206.59,615.08 207.65,615.92 208.72,616.71 209.79,617.45 210.86,618.14 211.93,618.79 213.00,619.40 214.06,619.98 215.13,620.51 216.20,621.02 217.27,621.49 218.34,621.93 219.41,622.34 220.47,622.72 221.54,623.08 222.61,623.41 223.68,623.72 224.75,624.01 225.82,624.28 226.88,624.53 227.95,624.77 229.02,624.99 230.09,625.19 231.16,625.38 232.23,625.56 233.29,625.72 234.36,625.87 235.43,626.01 236.50,626.14 237.57,626.27 238.64,626.38 239.70,626.49 240.77,626.58 241.84,626.67 242.91,626.76 243.98,626.84 245.05,626.91 246.11,626.98 247.18,627.04 248.25,627.10 249.32,627.15 250.39,627.20 251.46,627.25 252.52,627.29 253.59,627.33 254.66,627.37 255.73,627.41 256.80,627.44 257.87,627.47 258.93,627.50 260.00,627.52 261.07,627.54 262.14,627.57 263.21,627.59 264.28,627.61 265.34,627.62 266.41,627.64 267.48,627.66 268.55,627.67 269.62,627.68 270.69,627.69 271.75,627.71 272.82,627.72 273.89,627.73 274.96,627.74 276.03,627.74 277.10,627.75 278.16,627.76 279.23,627.77 280.30,627.77 281.37,627.78 282.44,627.78 283.51,627.79 284.57,627.79 285.64,627.80 286.71,627.80 287.78,627.80 288.85,627.81 289.92,627.81 290.98,627.81 292.05,627.82 293.12,627.82 294.19,627.82 295.26,627.82 296.33,627.82 297.39,627.83 298.46,627.83 299.53,627.83 300.60,627.83" fill="none" stroke="#222" stroke-width="1.2" stroke-dasharray="3,2.5"/>
<circle cx="88.00" cy="507.40" r="3.2" fill="#ff0000" stroke="#000" stroke-width="1.1"/>
<circle cx="109.26" cy="508.60" r="3.2" fill="#ff0000" stroke="#000" stroke-width="1.1"/>
<circle cx="130.52" cy="509.40" r="3.2" fill="#ff0000" stroke="#000" stroke-width="1.1"/>
<circle cx="151.78" cy="520.60" r="3.2" fill="#ff0000" stroke="#000" stroke-width="1.1"/>
<line x1="151.78" y1="522.60" x2="151.78" y2="515.60" stroke="#222" stroke-width="1.2" />
<line x1="148.48" y1="515.60" x2="155.08" y2="515.60" stroke="#222" stroke-width="1.2" />
<circle cx="173.04" cy="563.60" r="3.2" fill="#ff0000" stroke="#000" stroke-width="1.1"/>
<line x1="173.04" y1="565.60" x2="173.04" y2="555.00" stroke="#222" stroke-width="1.2" />
<line x1="169.74" y1="555.00" x2="176.34" y2="555.00" stroke="#222" stroke-width="1.2" />
<circle cx="194.30" cy="602.20" r="3.2" fill="#ff0000" stroke="#000" stroke-width="1.1"/>
<line x1="194.30" y1="604.20" x2="194.30" y2="598.20" stroke="#222" stroke-width="1.2" />
<line x1="191.00" y1="598.20" x2="197.60" y2="598.20" stroke="#222" stroke-width="1.2" />
<circle cx="215.56" cy="618.40" r="3.2" fill="#ff0000" stroke="#000" stroke-width="1.1"/>
<circle cx="236.82" cy="624.20" r="3.2" fill="#ff0000" stroke="#000" stroke-width="1.1"/>
<circle cx="258.08" cy="627.60" r="3.2" fill="#ff0000" stroke="#000" stroke-width="1.1"/>
<circle cx="279.34" cy="630.00" r="3.2" fill="#ff0000" stroke="#000" stroke-width="1.1"/>
<circle cx="300.60" cy="630.00" r="3.2" fill="#ff0000" stroke="#000" stroke-width="1.1"/>
<circle cx="88.00" cy="507.40" r="3.2" fill="#fff" stroke="#000" stroke-width="1.1"/>
<circle cx="109.26" cy="509.00" r="3.2" fill="#fff" stroke="#000" stroke-width="1.1"/>
<circle cx="130.52" cy="511.40" r="3.2" fill="#fff" stroke="#000" stroke-width="1.1"/>
<circle cx="151.78" cy="525.40" r="3.2" fill="#fff" stroke="#000" stroke-width="1.1"/>
<circle cx="173.04" cy="570.60" r="3.2" fill="#fff" stroke="#000" stroke-width="1.1"/>
<circle cx="194.30" cy="603.00" r="3.2" fill="#fff" stroke="#000" stroke-width="1.1"/>
<circle cx="215.56" cy="619.40" r="3.2" fill="#fff" stroke="#000" stroke-width="1.1"/>
<circle cx="236.82" cy="627.60" r="3.2" fill="#fff" stroke="#000" stroke-width="1.1"/>
<circle cx="258.08" cy="630.80" r="3.2" fill="#fff" stroke="#000" stroke-width="1.1"/>
<circle cx="279.34" cy="632.00" r="3.2" fill="#fff" stroke="#000" stroke-width="1.1"/>
<circle cx="300.60" cy="633.40" r="3.2" fill="#fff" stroke="#000" stroke-width="1.1"/>
<line x1="216.00" y1="519.40" x2="232.60" y2="519.40" stroke="#222" stroke-width="1.2" />
<circle cx="224.40" cy="519.40" r="3.2" fill="#fff" stroke="#000" stroke-width="1.1"/>
<text x="242.00" y="523.00" font-size="12.3" font-weight="normal" text-anchor="start" fill="#111" >+/+</text>
<line x1="216.00" y1="539.40" x2="232.60" y2="539.40" stroke="#222" stroke-width="1.2" stroke-dasharray="2.5,2.5"/>
<circle cx="224.40" cy="539.40" r="3.2" fill="#ff0000" stroke="#000" stroke-width="1.1"/>
<text x="241.60" y="543.60" font-size="12.3" font-weight="normal" text-anchor="start" fill="#111" >F/F</text>
<text x="352.40" y="484.40" font-size="22" font-weight="bold" text-anchor="start" fill="#000" >h</text>
<line x1="377.60" y1="512.20" x2="377.60" y2="645.80" stroke="#111" stroke-width="1.45" />
<line x1="373.10" y1="512.20" x2="377.60" y2="512.20" stroke="#111" stroke-width="1.45" />
<text x="371.10" y="515.62" font-size="11.4" font-weight="bold" text-anchor="end" fill="#111" >-7.6</text>
<line x1="373.10" y1="545.60" x2="377.60" y2="545.60" stroke="#111" stroke-width="1.45" />
<text x="371.10" y="549.02" font-size="11.4" font-weight="bold" text-anchor="end" fill="#111" >-7.8</text>
<line x1="373.10" y1="579.00" x2="377.60" y2="579.00" stroke="#111" stroke-width="1.45" />
<text x="371.10" y="582.42" font-size="11.4" font-weight="bold" text-anchor="end" fill="#111" >-8.0</text>
<line x1="373.10" y1="612.40" x2="377.60" y2="612.40" stroke="#111" stroke-width="1.45" />
<text x="371.10" y="615.82" font-size="11.4" font-weight="bold" text-anchor="end" fill="#111" >-8.2</text>
<line x1="373.10" y1="645.80" x2="377.60" y2="645.80" stroke="#111" stroke-width="1.45" />
<text x="371.10" y="649.22" font-size="11.4" font-weight="bold" text-anchor="end" fill="#111" >-8.4</text>
<text x="338" y="578.5" font-size="12.5" font-weight="bold" text-anchor="middle" fill="#111" transform="rotate(-90 338 578.5) translate(0 3.0)">IC<tspan font-size="10.5" font-weight="normal" dy="3">50</tspan><tspan dy="-3"> DEANO (M)</tspan></text>
<line x1="391.60" y1="660.60" x2="477.40" y2="660.60" stroke="#111" stroke-width="1.45" />
<line x1="413.20" y1="660.60" x2="413.20" y2="665.10" stroke="#111" stroke-width="1.45" />
<text x="413.20" y="676.10" font-size="11.3" font-weight="bold" text-anchor="middle" fill="#111" >+/+</text>
<line x1="455.40" y1="660.60" x2="455.40" y2="665.10" stroke="#111" stroke-width="1.45" />
<text x="455.40" y="676.10" font-size="11.3" font-weight="bold" text-anchor="middle" fill="#111" >F/F</text>
<text x="434.60" y="518.40" font-size="12" font-weight="normal" text-anchor="start" fill="#111" >p= 0.71</text>
<circle cx="413.40" cy="544.00" r="3.0" fill="#fff" stroke="#000" stroke-width="1.1"/>
<circle cx="424.40" cy="541.00" r="3.0" fill="#fff" stroke="#000" stroke-width="1.1"/>
<circle cx="402.40" cy="573.60" r="3.0" fill="#fff" stroke="#000" stroke-width="1.1"/>
<circle cx="413.40" cy="571.40" r="3.0" fill="#fff" stroke="#000" stroke-width="1.1"/>
<circle cx="424.60" cy="574.40" r="3.0" fill="#fff" stroke="#000" stroke-width="1.1"/>
<circle cx="413.40" cy="588.00" r="3.0" fill="#fff" stroke="#000" stroke-width="1.1"/>
<circle cx="413.40" cy="636.40" r="3.0" fill="#fff" stroke="#000" stroke-width="1.1"/>
<circle cx="449.60" cy="531.40" r="3.0" fill="#ff0000" stroke="#000" stroke-width="1.1"/>
<circle cx="462.00" cy="532.60" r="3.0" fill="#ff0000" stroke="#000" stroke-width="1.1"/>
<circle cx="455.60" cy="546.40" r="3.0" fill="#ff0000" stroke="#000" stroke-width="1.1"/>
<circle cx="455.60" cy="569.60" r="3.0" fill="#ff0000" stroke="#000" stroke-width="1.1"/>
<circle cx="455.60" cy="590.00" r="3.0" fill="#ff0000" stroke="#000" stroke-width="1.1"/>
<circle cx="455.60" cy="596.40" r="3.0" fill="#ff0000" stroke="#000" stroke-width="1.1"/>
<circle cx="455.60" cy="616.60" r="3.0" fill="#ff0000" stroke="#000" stroke-width="1.1"/>
<line x1="399.30" y1="575.20" x2="428.00" y2="575.20" stroke="#222" stroke-width="1.4" />
<line x1="413.40" y1="563.40" x2="413.40" y2="587.70" stroke="#222" stroke-width="1.4" />
<line x1="406.50" y1="563.40" x2="420.40" y2="563.40" stroke="#222" stroke-width="1.4" />
<line x1="406.50" y1="587.70" x2="420.40" y2="587.70" stroke="#222" stroke-width="1.4" />
<line x1="441.60" y1="569.00" x2="469.60" y2="569.00" stroke="#222" stroke-width="1.4" />
<line x1="455.60" y1="556.40" x2="455.60" y2="581.40" stroke="#222" stroke-width="1.4" />
<line x1="448.60" y1="556.40" x2="462.60" y2="556.40" stroke="#222" stroke-width="1.4" />
<line x1="448.60" y1="581.40" x2="462.60" y2="581.40" stroke="#222" stroke-width="1.4" />
<text x="558.80" y="484.00" font-size="22" font-weight="bold" text-anchor="start" fill="#000" >i</text>
<line x1="582.00" y1="512.00" x2="582.00" y2="647.00" stroke="#111" stroke-width="1.45" />
<line x1="577.50" y1="512.00" x2="582.00" y2="512.00" stroke="#111" stroke-width="1.45" />
<text x="575.50" y="515.42" font-size="11.4" font-weight="bold" text-anchor="end" fill="#111" >-90</text>
<line x1="577.50" y1="545.80" x2="582.00" y2="545.80" stroke="#111" stroke-width="1.45" />
<text x="575.50" y="549.22" font-size="11.4" font-weight="bold" text-anchor="end" fill="#111" >-95</text>
<line x1="577.50" y1="579.40" x2="582.00" y2="579.40" stroke="#111" stroke-width="1.45" />
<text x="575.50" y="582.82" font-size="11.4" font-weight="bold" text-anchor="end" fill="#111" >-100</text>
<line x1="577.50" y1="613.40" x2="582.00" y2="613.40" stroke="#111" stroke-width="1.45" />
<text x="575.50" y="616.82" font-size="11.4" font-weight="bold" text-anchor="end" fill="#111" >-105</text>
<line x1="577.50" y1="647.00" x2="582.00" y2="647.00" stroke="#111" stroke-width="1.45" />
<text x="575.50" y="650.42" font-size="11.4" font-weight="bold" text-anchor="end" fill="#111" >-110</text>
<text x="541.00" y="578.00" font-size="12.3" font-weight="bold" text-anchor="middle" fill="#111" transform="rotate(-90 541.00 578.00) translate(0 3.32)">Max DEANO relaxation (%)</text>
<line x1="597.00" y1="661.60" x2="683.00" y2="661.60" stroke="#111" stroke-width="1.45" />
<line x1="618.70" y1="661.60" x2="618.70" y2="666.10" stroke="#111" stroke-width="1.45" />
<text x="618.70" y="677.90" font-size="11.3" font-weight="bold" text-anchor="middle" fill="#111" >+/+</text>
<line x1="661.40" y1="661.60" x2="661.40" y2="666.10" stroke="#111" stroke-width="1.45" />
<text x="661.40" y="677.90" font-size="11.3" font-weight="bold" text-anchor="middle" fill="#111" >F/F</text>
<text x="644.80" y="503.30" font-size="10.7" font-weight="normal" text-anchor="start" fill="#111" >p = 0.37</text>
<circle cx="618.70" cy="565.20" r="3.0" fill="#fff" stroke="#000" stroke-width="1.1"/>
<circle cx="618.70" cy="579.40" r="3.0" fill="#fff" stroke="#000" stroke-width="1.1"/>
<circle cx="618.70" cy="602.70" r="3.0" fill="#fff" stroke="#000" stroke-width="1.1"/>
<circle cx="618.70" cy="615.50" r="3.0" fill="#fff" stroke="#000" stroke-width="1.1"/>
<circle cx="618.70" cy="627.80" r="3.0" fill="#fff" stroke="#000" stroke-width="1.1"/>
<circle cx="618.70" cy="635.10" r="3.0" fill="#fff" stroke="#000" stroke-width="1.1"/>
<circle cx="618.70" cy="641.40" r="3.0" fill="#fff" stroke="#000" stroke-width="1.1"/>
<circle cx="661.30" cy="523.00" r="3.0" fill="#ff0000" stroke="#000" stroke-width="1.1"/>
<circle cx="661.40" cy="571.60" r="3.0" fill="#ff0000" stroke="#000" stroke-width="1.1"/>
<circle cx="661.40" cy="600.00" r="3.0" fill="#ff0000" stroke="#000" stroke-width="1.1"/>
<circle cx="667.40" cy="609.00" r="3.0" fill="#ff0000" stroke="#000" stroke-width="1.1"/>
<circle cx="655.40" cy="612.40" r="3.0" fill="#ff0000" stroke="#000" stroke-width="1.1"/>
<circle cx="667.40" cy="618.00" r="3.0" fill="#ff0000" stroke="#000" stroke-width="1.1"/>
<circle cx="655.40" cy="621.60" r="3.0" fill="#ff0000" stroke="#000" stroke-width="1.1"/>
<line x1="604.40" y1="609.10" x2="633.20" y2="609.10" stroke="#222" stroke-width="1.4" />
<line x1="618.70" y1="598.40" x2="618.70" y2="620.50" stroke="#222" stroke-width="1.4" />
<line x1="612.00" y1="598.40" x2="625.60" y2="598.40" stroke="#222" stroke-width="1.4" />
<line x1="612.00" y1="620.50" x2="625.60" y2="620.50" stroke="#222" stroke-width="1.4" />
<line x1="647.20" y1="593.40" x2="675.40" y2="593.40" stroke="#222" stroke-width="1.4" />
<line x1="661.40" y1="580.00" x2="661.40" y2="607.00" stroke="#222" stroke-width="1.4" />
<line x1="654.40" y1="580.00" x2="668.40" y2="580.00" stroke="#222" stroke-width="1.4" />
<line x1="654.40" y1="607.00" x2="668.40" y2="607.00" stroke="#222" stroke-width="1.4" />
<text x="26.50" y="758.40" font-size="21" font-weight="bold" text-anchor="start" fill="#000" >j</text>
<text x="151.6" y="761.4" font-size="22.1" font-weight="bold" fill="#111">Atg7<tspan font-size="14" dx="0.8" dy="-6.3" letter-spacing="0.3">+/+</tspan></text>
<text x="336.1" y="761.4" font-size="22.1" font-weight="bold" fill="#111">Atg7<tspan font-size="14" dx="0.8" dy="-6.5" letter-spacing="0.5">F/F</tspan></text>
<line x1="102.40" y1="774.20" x2="273.00" y2="774.20" stroke="#333" stroke-width="1.4" />
<line x1="288.30" y1="774.20" x2="458.70" y2="774.20" stroke="#333" stroke-width="1.4" />
<text x="91.40" y="804.00" font-size="21.7" font-weight="normal" text-anchor="end" fill="#111" >(p)-eNOS</text>
<text x="88.60" y="830.40" font-size="21.7" font-weight="normal" text-anchor="end" fill="#111" >eNOS</text>
<text x="91.40" y="857.60" font-size="21.9" font-weight="normal" text-anchor="end" fill="#111" >β-actin</text>
<defs><filter id="bl" x="-20%" y="-80%" width="140%" height="260%"><feGaussianBlur stdDeviation="0.9"/></filter><filter id="bl2" x="-20%" y="-80%" width="140%" height="260%"><feGaussianBlur stdDeviation="1.6"/></filter></defs>
<rect x="96.5" y="778.9" width="369.5" height="20.8" fill="#dcdcdc"/>
<rect x="96.5" y="804.2" width="369.5" height="21.7" fill="#d2d2d2"/>
<rect x="96.5" y="831.9" width="369.5" height="22.5" fill="#dfdfdf"/>
<filter id="nz" x="0" y="0" width="100%" height="100%"><feTurbulence type="fractalNoise" baseFrequency="0.22" numOctaves="2" seed="7"/><feColorMatrix type="matrix" values="0 0 0 0 0  0 0 0 0 0  0 0 0 0 0  0 0 0 -1.2 1.1"/></filter>
<rect x="96.5" y="778.9" width="369.5" height="20.8" fill="#000" filter="url(#nz)" opacity="0.06"/>
<rect x="96.5" y="804.2" width="369.5" height="21.7" fill="#000" filter="url(#nz)" opacity="0.09"/>
<rect x="96.5" y="831.9" width="369.5" height="22.5" fill="#000" filter="url(#nz)" opacity="0.05"/>
<rect x="103.8" y="806" width="20.4" height="19" fill="#000" opacity="0.10" filter="url(#bl2)"/>
<rect x="104.8" y="814.6" width="18.4" height="5" rx="2" fill="#000" opacity="0.22" filter="url(#bl)"/>
<rect x="103.8" y="809.3" width="20.4" height="5.8" rx="2.5" fill="#000" opacity="0.93" filter="url(#bl)"/>
<rect x="103.8" y="839.0" width="21.1" height="7.5" rx="3.5" fill="#000" filter="url(#bl)"/>
<rect x="132.2" y="806" width="22.7" height="19" fill="#000" opacity="0.10" filter="url(#bl2)"/>
<rect x="133.2" y="815.4" width="20.7" height="5" rx="2" fill="#000" opacity="0.30" filter="url(#bl)"/>
<rect x="132.2" y="810.8" width="22.7" height="5.1" rx="2.5" fill="#000" opacity="0.79" filter="url(#bl)"/>
<rect x="133.0" y="838.8" width="22.6" height="7.7" rx="3.5" fill="#000" filter="url(#bl)"/>
<rect x="162.9" y="806" width="21.9" height="19" fill="#000" opacity="0.10" filter="url(#bl2)"/>
<rect x="163.9" y="816.1" width="19.9" height="5" rx="2" fill="#000" opacity="0.22" filter="url(#bl)"/>
<rect x="162.9" y="812.2" width="21.9" height="4.4" rx="2.5" fill="#000" opacity="0.74" filter="url(#bl)"/>
<rect x="165.0" y="839.0" width="21.2" height="7.0" rx="3.5" fill="#000" filter="url(#bl)"/>
<rect x="192.8" y="806" width="22.5" height="19" fill="#000" opacity="0.10" filter="url(#bl2)"/>
<rect x="193.8" y="816.6" width="20.5" height="5" rx="2" fill="#000" opacity="0.30" filter="url(#bl)"/>
<rect x="192.8" y="811.9" width="22.5" height="5.2" rx="2.5" fill="#000" opacity="0.84" filter="url(#bl)"/>
<rect x="192.8" y="787.6" width="22.5" height="3" rx="1.5" fill="#000" opacity="0.14" filter="url(#bl)"/>
<rect x="195.3" y="840.0" width="21.3" height="7.3" rx="3.5" fill="#000" filter="url(#bl)"/>
<rect x="223.0" y="806" width="22.8" height="19" fill="#000" opacity="0.10" filter="url(#bl2)"/>
<rect x="224.0" y="817.5" width="20.8" height="5" rx="2" fill="#000" opacity="0.50" filter="url(#bl)"/>
<rect x="223.0" y="810.6" width="22.8" height="7.4" rx="2.5" fill="#000" opacity="0.93" filter="url(#bl)"/>
<rect x="223.0" y="787.6" width="22.8" height="3" rx="1.5" fill="#000" opacity="0.20" filter="url(#bl)"/>
<rect x="224.2" y="838.4" width="23.2" height="9.6" rx="3.5" fill="#000" filter="url(#bl)"/>
<rect x="254.2" y="806" width="21.4" height="19" fill="#000" opacity="0.10" filter="url(#bl2)"/>
<rect x="255.2" y="818.2" width="19.4" height="5" rx="2" fill="#000" opacity="0.25" filter="url(#bl)"/>
<rect x="254.2" y="814.3" width="21.4" height="4.4" rx="2.5" fill="#000" opacity="0.79" filter="url(#bl)"/>
<rect x="254.2" y="787.6" width="21.4" height="3" rx="1.5" fill="#000" opacity="0.06" filter="url(#bl)"/>
<rect x="255.5" y="838.0" width="22.8" height="7.7" rx="3.5" fill="#000" filter="url(#bl)"/>
<rect x="283.5" y="806" width="23.0" height="19" fill="#000" opacity="0.10" filter="url(#bl2)"/>
<rect x="284.5" y="819.5" width="21.0" height="5" rx="2" fill="#000" opacity="0.30" filter="url(#bl)"/>
<rect x="283.5" y="813.5" width="23.0" height="6.5" rx="2.5" fill="#000" opacity="0.93" filter="url(#bl)"/>
<rect x="283.5" y="787.6" width="23.0" height="3" rx="1.5" fill="#000" opacity="0.50" filter="url(#bl)"/>
<rect x="286.4" y="837.6" width="22.5" height="8.9" rx="3.5" fill="#000" filter="url(#bl)"/>
<rect x="315.0" y="806" width="22.0" height="19" fill="#000" opacity="0.10" filter="url(#bl2)"/>
<rect x="316.0" y="819.1" width="20.0" height="5" rx="2" fill="#000" opacity="0.25" filter="url(#bl)"/>
<rect x="315.0" y="814.3" width="22.0" height="5.3" rx="2.5" fill="#000" opacity="0.79" filter="url(#bl)"/>
<rect x="315.0" y="787.6" width="22.0" height="3" rx="1.5" fill="#000" opacity="0.12" filter="url(#bl)"/>
<rect x="316.6" y="837.6" width="24.1" height="10.0" rx="3.5" fill="#000" filter="url(#bl)"/>
<rect x="345.8" y="806" width="21.7" height="19" fill="#000" opacity="0.10" filter="url(#bl2)"/>
<rect x="346.8" y="818.7" width="19.7" height="5" rx="2" fill="#000" opacity="0.25" filter="url(#bl)"/>
<rect x="345.8" y="814.3" width="21.7" height="4.9" rx="2.5" fill="#000" opacity="0.88" filter="url(#bl)"/>
<rect x="345.8" y="787.6" width="21.7" height="3" rx="1.5" fill="#000" opacity="0.30" filter="url(#bl)"/>
<rect x="347.4" y="838.5" width="22.2" height="8.0" rx="3.5" fill="#000" filter="url(#bl)"/>
<rect x="376.4" y="806" width="21.7" height="19" fill="#000" opacity="0.10" filter="url(#bl2)"/>
<rect x="377.4" y="818.7" width="19.7" height="5" rx="2" fill="#000" opacity="0.30" filter="url(#bl)"/>
<rect x="376.4" y="812.7" width="21.7" height="6.5" rx="2.5" fill="#000" opacity="0.93" filter="url(#bl)"/>
<rect x="376.4" y="787.6" width="21.7" height="3" rx="1.5" fill="#000" opacity="0.70" filter="url(#bl)"/>
<rect x="376.4" y="839.2" width="24.9" height="8.9" rx="3.5" fill="#000" filter="url(#bl)"/>
<rect x="407.3" y="806" width="20.5" height="19" fill="#000" opacity="0.10" filter="url(#bl2)"/>
<rect x="408.3" y="818.7" width="18.5" height="5" rx="2" fill="#000" opacity="0.25" filter="url(#bl)"/>
<rect x="407.3" y="814.3" width="20.5" height="4.9" rx="2.5" fill="#000" opacity="0.84" filter="url(#bl)"/>
<rect x="407.3" y="787.6" width="20.5" height="3" rx="1.5" fill="#000" opacity="0.12" filter="url(#bl)"/>
<rect x="409.8" y="838.5" width="22.8" height="8.5" rx="3.5" fill="#000" filter="url(#bl)"/>
<rect x="437.4" y="806" width="20.9" height="19" fill="#000" opacity="0.10" filter="url(#bl2)"/>
<rect x="438.4" y="820.7" width="18.9" height="5" rx="2" fill="#000" opacity="0.30" filter="url(#bl)"/>
<rect x="437.4" y="814.3" width="20.9" height="6.9" rx="2.5" fill="#000" opacity="0.93" filter="url(#bl)"/>
<rect x="437.4" y="787.6" width="20.9" height="3" rx="1.5" fill="#000" opacity="0.42" filter="url(#bl)"/>
<rect x="440.7" y="837.3" width="20.8" height="8.4" rx="3.5" fill="#000" filter="url(#bl)"/>
<text x="492.40" y="748.00" font-size="22" font-weight="bold" text-anchor="start" fill="#000" >k</text>
<line x1="562.50" y1="738.00" x2="562.50" y2="874.40" stroke="#111" stroke-width="1.45" />
<line x1="558.00" y1="874.40" x2="562.50" y2="874.40" stroke="#111" stroke-width="1.45" />
<text x="556.00" y="877.82" font-size="11.4" font-weight="bold" text-anchor="end" fill="#111" >0.0</text>
<line x1="558.00" y1="847.10" x2="562.50" y2="847.10" stroke="#111" stroke-width="1.45" />
<text x="556.00" y="850.52" font-size="11.4" font-weight="bold" text-anchor="end" fill="#111" >0.2</text>
<line x1="558.00" y1="819.80" x2="562.50" y2="819.80" stroke="#111" stroke-width="1.45" />
<text x="556.00" y="823.22" font-size="11.4" font-weight="bold" text-anchor="end" fill="#111" >0.4</text>
<line x1="558.00" y1="792.60" x2="562.50" y2="792.60" stroke="#111" stroke-width="1.45" />
<text x="556.00" y="796.02" font-size="11.4" font-weight="bold" text-anchor="end" fill="#111" >0.6</text>
<line x1="558.00" y1="765.30" x2="562.50" y2="765.30" stroke="#111" stroke-width="1.45" />
<text x="556.00" y="768.72" font-size="11.4" font-weight="bold" text-anchor="end" fill="#111" >0.8</text>
<line x1="558.00" y1="738.00" x2="562.50" y2="738.00" stroke="#111" stroke-width="1.45" />
<text x="556.00" y="741.42" font-size="11.4" font-weight="bold" text-anchor="end" fill="#111" >1.0</text>
<text x="525.00" y="806.30" font-size="12.3" font-weight="bold" text-anchor="middle" fill="#111" transform="rotate(-90 525.00 806.30) translate(0 3.32)">(p)eNOS/eNOS</text>
<line x1="577.40" y1="889.00" x2="664.40" y2="889.00" stroke="#111" stroke-width="1.45" />
<line x1="600.00" y1="889.00" x2="600.00" y2="893.50" stroke="#111" stroke-width="1.45" />
<text x="600.00" y="906.00" font-size="11.3" font-weight="bold" text-anchor="middle" fill="#111" >+/+</text>
<line x1="642.60" y1="889.00" x2="642.60" y2="893.50" stroke="#111" stroke-width="1.45" />
<text x="642.60" y="906.00" font-size="11.3" font-weight="bold" text-anchor="middle" fill="#111" >F/F</text>
<line x1="599.70" y1="830.00" x2="599.70" y2="818.60" stroke="#222" stroke-width="1.3" />
<line x1="592.60" y1="818.60" x2="607.00" y2="818.60" stroke="#222" stroke-width="1.3" />
<line x1="642.60" y1="763.40" x2="642.60" y2="751.00" stroke="#222" stroke-width="1.3" />
<line x1="635.40" y1="751.00" x2="650.00" y2="751.00" stroke="#222" stroke-width="1.3" />
<path d="M585.4 874 V830 H614 V874" fill="#fff" stroke="#222" stroke-width="1.3"/>
<path d="M628 874 V763.4 H657 V874 Z" fill="#ff0000" stroke="none"/>
<path d="M628 874 V763.4 H657 V874" fill="none" stroke="#222" stroke-width="1.3"/>
<text x="643.00" y="746.30" font-size="11" font-weight="bold" text-anchor="middle" fill="#111" >**</text>
</svg>
</body></html>
